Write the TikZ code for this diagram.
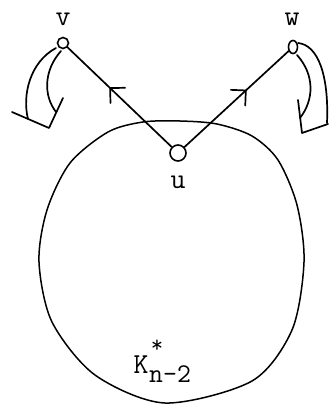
\documentclass[tikz,border=0pt]{standalone}
\usetikzlibrary{calc,shapes.geometric}
\begin{document}
\begin{tikzpicture}[x=1pt,y=-1pt,
  ln/.style={line width=1.7pt, line cap=round, line join=round},
  vert/.style={draw, circle, line width=1.6pt, inner sep=0pt, fill=white},
  lab/.style={font=\fontsize{29}{32}\selectfont\ttfamily, inner sep=0pt, anchor=base}]
\useasboundingbox (0,0) rectangle (329,407);
% big region
\draw[ln, line width=1.5pt] plot[smooth cycle, tension=0.5] coordinates {
 (143,122) (180,121) (217,124) (252,136) (278,160) (297,205) (304,262) (292,330) (252,381)
 (165,403) (95,375) (52,322) (39,262) (47,210) (70,163) (108,132)};
% vertices
\node[vert, minimum size=11pt] (v) at (63,43) {};
\node[vert, ellipse, minimum width=9pt, minimum height=13pt] (w) at (293,47) {};
\node[vert, minimum size=16pt] (u) at (178,153) {};
% edges
\draw[ln] (u) -- (v);
\draw[ln] (u) -- (w);
% arrow marks on edges
\coordinate (t1) at ($(u)!0.59!(v)$);
\coordinate (t2) at ($(u)!0.59!(w)$);
\draw[ln] ($(t1)!15pt!45:(u)$) -- (t1) -- ($(t1)!15pt!-45:(u)$);
\draw[ln] ($(t2)!15pt!45:(u)$) -- (t2) -- ($(t2)!15pt!-45:(u)$);
% curved arrow at v
\draw[ln] (56,48) .. controls (30,62) and (22,95) .. (28,119);
\draw[ln] (61,51) .. controls (44,70) and (43,95) .. (56,112);
\draw[ln] (12,112) -- (49,128) -- (63,98);
% curved arrow at w
\draw[ln] (298,43) .. controls (318,45) and (329,75) .. (327,123);
\draw[ln] (297,55) .. controls (315,75) and (314,100) .. (300,118);
\draw[ln] (298,100) -- (302,133) -- (328,124);
% labels
\node[lab] (lv) at (63,25) {v};
\node[lab] (lw) at (292,25) {w};
\node[lab] (lu) at (178,188) {u};
\node[lab] (lk) at (141,373) {K};
\node[lab, anchor=base west, font=\fontsize{27}{30}\selectfont\ttfamily] (ln2) at (149,382) {n-2};
\node[lab, font=\fontsize{24}{26}\selectfont\ttfamily] (ls) at (157,352) {*};
\end{tikzpicture}
\end{document}
